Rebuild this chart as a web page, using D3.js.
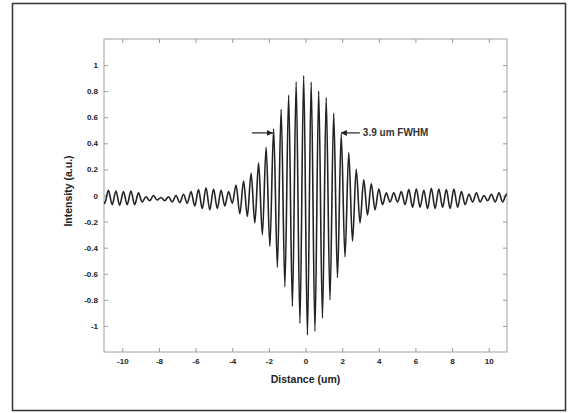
<!DOCTYPE html>
<meta charset="utf-8">
<style>
body { margin: 0; background: #fff; }
text { font-family: "Liberation Sans", Arial, sans-serif; }
.tick text { font-size: 8px; font-weight: bold; fill: #222; }
.tick line { stroke: #999; }
.domain { stroke: none; }
</style>
<body>
<svg width="569" height="413"></svg>
<script src="https://cdn.jsdelivr.net/npm/d3@7"></script>
<script>

// fringe extrema: alternating peak / trough
var extremaX = [
  -11.17, -10.965, -10.76, -10.555, -10.35, -10.145, -9.94, -9.735, -9.53, -9.325,
  -9.12, -8.915, -8.71, -8.505, -8.30, -8.095, -7.89, -7.685, -7.48, -7.275,
  -7.07, -6.865, -6.66, -6.455, -6.25, -6.045, -5.84, -5.635, -5.43, -5.225,
  -5.02, -4.815, -4.61, -4.405, -4.20, -3.995, -3.79, -3.585, -3.38, -3.175,
  -2.97, -2.765, -2.56, -2.355, -2.15, -1.945, -1.74, -1.535, -1.33, -1.125,
  -0.92, -0.715, -0.51, -0.305, -0.10, 0.105, 0.31, 0.515, 0.72, 0.925,
  1.13, 1.335, 1.54, 1.745, 1.95, 2.155, 2.36, 2.565, 2.77, 2.975,
  3.18, 3.385, 3.59, 3.795, 4.00, 4.205, 4.41, 4.615, 4.82, 5.025,
  5.23, 5.435, 5.64, 5.845, 6.05, 6.255, 6.46, 6.665, 6.87, 7.075,
  7.28, 7.485, 7.69, 7.895, 8.10, 8.305, 8.51, 8.715, 8.92, 9.125,
  9.33, 9.535, 9.74, 9.945, 10.15, 10.355, 10.56, 10.765, 10.97, 11.175
];
var extremaY = [
  0.03, -0.06, 0.04, -0.07, 0.035, -0.075, 0.03, -0.07, 0.035, -0.07,
  0.02, -0.05, -0.01, -0.04, 0.0, -0.035, -0.015, -0.04, -0.01, -0.05,
  0.0, -0.055, 0.01, -0.06, 0.03, -0.08, 0.045, -0.10, 0.06, -0.11,
  0.05, -0.10, 0.04, -0.08, 0.03, -0.06, 0.08, -0.14, 0.11, -0.16,
  0.17, -0.21, 0.25, -0.30, 0.37, -0.39, 0.51, -0.55, 0.66, -0.70,
  0.77, -0.85, 0.87, -0.98, 0.92, -1.07, 0.87, -1.04, 0.80, -0.94,
  0.75, -0.80, 0.63, -0.63, 0.47, -0.47, 0.33, -0.35, 0.20, -0.21,
  0.12, -0.15, 0.09, -0.11, 0.05, -0.07, 0.02, -0.05, 0.02, -0.05,
  0.03, -0.07, 0.045, -0.09, 0.05, -0.09, 0.04, -0.10, 0.055, -0.10,
  0.05, -0.09, 0.045, -0.10, 0.05, -0.09, 0.03, -0.07, 0.01, -0.05,
  0.02, -0.05, 0.0, -0.04, 0.01, -0.05, 0.02, -0.05, 0.01, -0.04
];

var xTicks = [-10, -8, -6, -4, -2, 0, 2, 4, 6, 8, 10];
var yTicks = [-1, -0.8, -0.6, -0.4, -0.2, 0, 0.2, 0.4, 0.6, 0.8, 1];

// FWHM marker
var fwhmLabel = "3.9 um FWHM";
var fwhmEdges = [-1.78, 1.93];
var fwhmLevel = 0.48;

var svg = d3.select("svg");

var margin = {left: 104, top: 39, right: 62, bottom: 61},
    width = 569 - margin.left - margin.right,
    height = 413 - margin.top - margin.bottom;

// outer frame
svg.append("rect")
    .attr("x", 12.5).attr("y", 3.5)
    .attr("width", 553).attr("height", 407)
    .attr("fill", "none").attr("stroke", "#333").attr("stroke-width", 1.5);

var x = d3.scaleLinear().domain([-11, 11]).range([0, width]);
var y = d3.scaleLinear().domain([-1.2, 1.2]).range([height, 0]);

var g = svg.append("g").attr("transform", "translate(" + margin.left + "," + margin.top + ")");

g.append("clipPath").attr("id", "clip")
  .append("rect").attr("width", width).attr("height", height);

var fmt = function(d) { return String(+d.toFixed(1)); };

g.append("g").attr("transform", "translate(0," + height + ")")
    .call(d3.axisBottom(x).tickValues(xTicks).tickFormat(fmt).tickSizeInner(-4).tickSizeOuter(0).tickPadding(6));
g.append("g")
    .call(d3.axisTop(x).tickValues(xTicks).tickFormat("").tickSizeInner(-4).tickSizeOuter(0));
g.append("g")
    .call(d3.axisLeft(y).tickValues(yTicks).tickFormat(fmt).tickSizeInner(-4).tickSizeOuter(0).tickPadding(6));
g.append("g").attr("transform", "translate(" + width + ",0)")
    .call(d3.axisRight(y).tickValues(yTicks).tickFormat("").tickSizeInner(-4).tickSizeOuter(0));

g.append("rect")
    .attr("width", width).attr("height", height)
    .attr("fill", "none").attr("stroke", "#a0a0a0").attr("stroke-width", 1);

var points = extremaX.map(function(d, i) { return [d, extremaY[i]]; });

var line = d3.line()
    .x(function(d) { return x(d[0]); })
    .y(function(d) { return y(d[1]); })
    .curve(d3.curveMonotoneX);

g.append("path")
    .datum(points)
    .attr("clip-path", "url(#clip)")
    .attr("fill", "none")
    .attr("stroke", "#222")
    .attr("stroke-width", 1.6)
    .attr("d", line);

// arrows
svg.append("defs").append("marker")
    .attr("id", "head")
    .attr("viewBox", "0 0 10 10")
    .attr("refX", 10).attr("refY", 5)
    .attr("markerWidth", 5).attr("markerHeight", 5)
    .attr("orient", "auto")
  .append("path").attr("d", "M0,0L10,5L0,10z").attr("fill", "#222");

g.append("line")
    .attr("x1", x(fwhmEdges[0]) - 21).attr("x2", x(fwhmEdges[0]))
    .attr("y1", y(fwhmLevel)).attr("y2", y(fwhmLevel))
    .attr("stroke", "#222").attr("stroke-width", 1.2)
    .attr("marker-end", "url(#head)");

g.append("line")
    .attr("x1", x(fwhmEdges[1]) + 19).attr("x2", x(fwhmEdges[1]))
    .attr("y1", y(fwhmLevel)).attr("y2", y(fwhmLevel))
    .attr("stroke", "#222").attr("stroke-width", 1.2)
    .attr("marker-end", "url(#head)");

g.append("text")
    .attr("x", x(fwhmEdges[1]) + 22).attr("y", y(fwhmLevel) + 3.5)
    .attr("font-size", 10).attr("font-weight", "bold").attr("fill", "#333")
    .text(fwhmLabel);

// axis labels
svg.append("text")
    .attr("x", margin.left + x(0)).attr("y", 383)
    .attr("text-anchor", "middle")
    .attr("font-size", 10.5).attr("font-weight", "bold").attr("fill", "#222")
    .text("Distance (um)");

svg.append("text")
    .attr("transform", "translate(72,191) rotate(-90)")
    .attr("text-anchor", "middle")
    .attr("font-size", 10.5).attr("font-weight", "bold").attr("fill", "#222")
    .text("Intensity (a.u.)");

</script>
</body>
